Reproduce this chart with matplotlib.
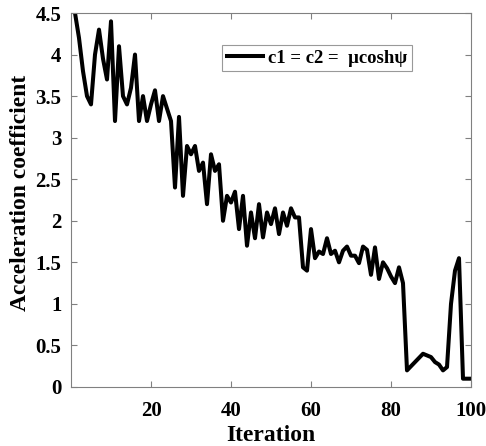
import numpy as np
import matplotlib.pyplot as plt

plt.rcParams['font.family'] = ['Liberation Serif', 'DejaVu Serif']
plt.rcParams['font.weight'] = 'bold'

iterations = np.arange(1, 101)
accel = [4.5, 4.2, 3.8, 3.5, 3.4, 4.0, 4.3, 3.95, 3.7, 4.4,
         3.2, 4.1, 3.5, 3.4, 3.6, 4.0, 3.2, 3.5, 3.2, 3.4,
         3.57, 3.2, 3.5, 3.35, 3.2, 2.4, 3.25, 2.3, 2.9, 2.8,
         2.9, 2.6, 2.7, 2.2, 2.8, 2.6, 2.68, 2.0, 2.3, 2.22,
         2.35, 1.9, 2.3, 1.7, 2.1, 1.79, 2.2, 1.8, 2.1, 1.96,
         2.15, 1.84, 2.1, 1.94, 2.15, 2.04, 2.04, 1.44, 1.4, 1.9,
         1.55, 1.63, 1.6, 1.79, 1.6, 1.64, 1.5, 1.64, 1.69, 1.58,
         1.58, 1.49, 1.69, 1.65, 1.35, 1.68, 1.3, 1.5, 1.43, 1.33,
         1.25, 1.44, 1.25, 0.2, 0.25, 0.3, 0.35, 0.4, 0.38, 0.36,
         0.3, 0.27, 0.2, 0.24, 1.0, 1.4, 1.55, 0.1, 0.1, 0.1]

x_ticks = [20, 40, 60, 80, 100]
y_ticks = [0, 0.5, 1, 1.5, 2, 2.5, 3, 3.5, 4, 4.5]
y_labels = ['0', '0.5', '1', '1.5', '2', '2.5', '3', '3.5', '4', '4.5']

fig = plt.figure(figsize=(4.86, 4.46), dpi=100)
ax = fig.add_axes([71/486, 59/446, 400/486, 374/446])

ax.plot(iterations, accel, color='black', linewidth=2.9,
        label='c1 = c2 =  \u03bccosh\u03c8')

ax.set_xlim(0, 100)
ax.set_ylim(0, 4.5)
ax.set_xticks(x_ticks)
ax.set_yticks(y_ticks)
ax.set_yticklabels(y_labels)
ax.tick_params(direction='in', length=4, width=0.8, color='#808080',
               top=True, right=True, labelsize=15)
ax.tick_params(axis='x', pad=10)
ax.tick_params(axis='y', pad=7)
for s in ax.spines.values():
    s.set_color('#808080')
    s.set_linewidth(0.8)

ax.set_xlabel('Iteration', fontsize=17, fontweight='bold', labelpad=3)
ax.set_ylabel('Acceleration coefficient', fontsize=17, fontweight='bold')
ax.yaxis.set_label_coords(-0.1, 0.52)

leg = ax.legend(loc='upper left', bbox_to_anchor=(0.378, 0.915), fontsize=13.5,
                frameon=True, fancybox=False, handlelength=1.9,
                handletextpad=0.3, borderpad=0.25, borderaxespad=0)
leg.get_frame().set_edgecolor('#808080')
leg.get_frame().set_linewidth(0.8)
for t in leg.get_texts():
    t.set_fontweight('bold')

fig.savefig('out.png', dpi=100)
